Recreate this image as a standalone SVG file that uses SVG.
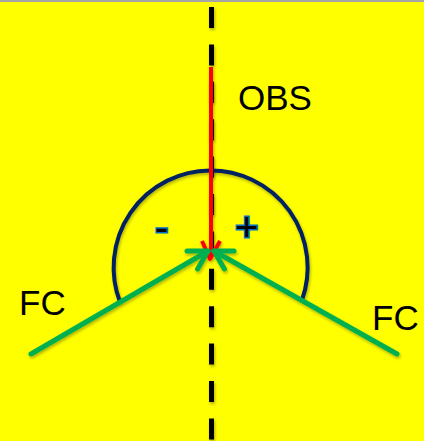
<svg xmlns="http://www.w3.org/2000/svg" width="424" height="441" viewBox="0 0 424 441">
<defs>
<style>
.lbl{font-family:"Liberation Sans",Arial,sans-serif;font-size:35px;fill:#000}
.sign{font-family:"Liberation Sans",Arial,sans-serif;font-size:40px;fill:#000;stroke:#0070c0;stroke-width:3;paint-order:stroke}
.green{fill:none;stroke:#00b050;stroke-width:5;stroke-linecap:round;stroke-linejoin:round}
</style>
<filter id="sh" filterUnits="userSpaceOnUse" x="0" y="0" width="424" height="441">
<feDropShadow dx="1" dy="2" stdDeviation="1.5" flood-color="#000" flood-opacity="0.3"/>
</filter>
</defs>
<rect width="424" height="441" fill="#ffff00"/>
<rect width="424" height="2" fill="#a6a6a6"/>
<g id="axis" filter="url(#sh)">
<line x1="211.5" y1="7" x2="211.5" y2="441" stroke="#000" stroke-width="5" stroke-dasharray="21 16.4"/>
</g>
<g id="arc" filter="url(#sh)">
<path d="M120 302 A97 97 0 1 1 302 300" fill="none" stroke="#002060" stroke-width="4"/>
</g>
<g id="connectors" filter="url(#sh)">
<g id="obs-arrow">
<line x1="211" y1="67" x2="211" y2="256" stroke="#ff0000" stroke-width="4"/>
<polyline points="202,241 210,259 220,241" fill="none" stroke="#ff0000" stroke-width="4" stroke-linejoin="round"/>
</g>
<g id="fc-left-arrow">
<line class="green" x1="31" y1="354" x2="208" y2="251"/>
<polyline class="green" points="187,251 208,251 197.6,269"/>
</g>
<g id="fc-right-arrow">
<line class="green" x1="397" y1="354" x2="214" y2="251"/>
<polyline class="green" points="234,251 214,251 224.4,269"/>
</g>
</g>
<g id="obs-label"><text class="lbl" x="238" y="110">OBS</text></g>
<g id="fc-left-label"><text class="lbl" x="19" y="315">FC</text></g>
<g id="fc-right-label"><text class="lbl" x="372" y="330">FC</text></g>
<g id="minus-label"><text class="sign" x="155" y="241">-</text></g>
<g id="plus-label"><text class="sign" x="235" y="241">+</text></g>
</svg>
